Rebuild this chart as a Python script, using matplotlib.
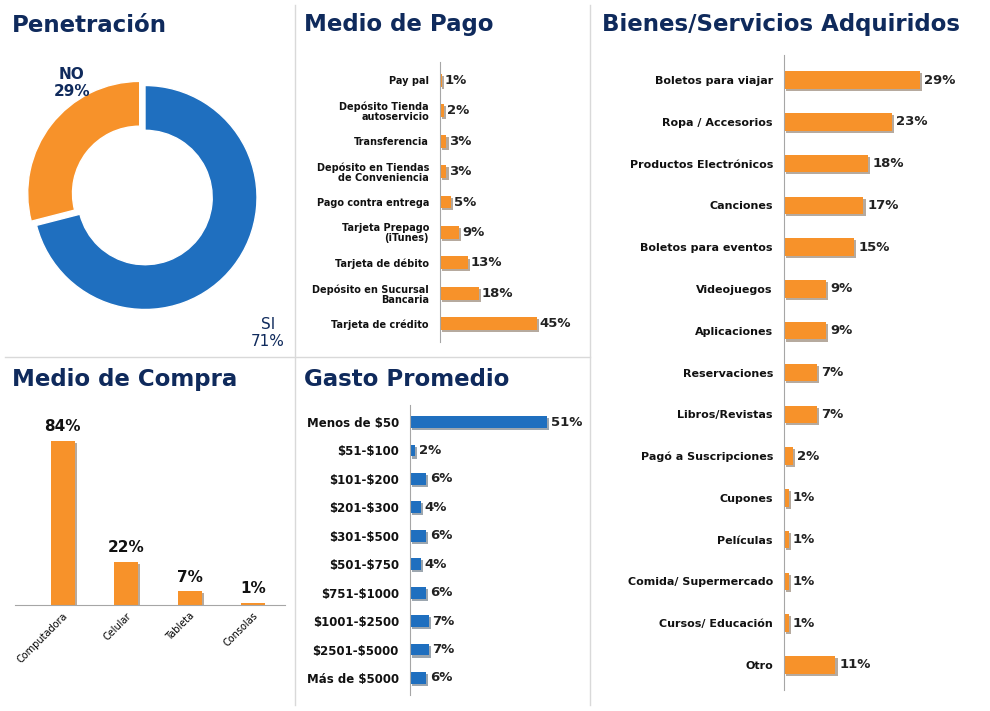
import matplotlib.pyplot as plt
import matplotlib.patheffects as pe

plt.rcParams["text.parse_math"] = False

pen_labels = ["SI", "NO"]
pen_values = [71, 29]

pago_labels = ["Pay pal", "Depósito Tienda\nautoservicio", "Transferencia",
               "Depósito en Tiendas\nde Conveniencia", "Pago contra entrega",
               "Tarjeta Prepago\n(iTunes)", "Tarjeta de débito",
               "Depósito en Sucursal\nBancaria", "Tarjeta de crédito"]
pago_values = [1, 2, 3, 3, 5, 9, 13, 18, 45]

bienes_labels = ["Boletos para viajar", "Ropa / Accesorios", "Productos Electrónicos",
                 "Canciones", "Boletos para eventos", "Videojuegos", "Aplicaciones",
                 "Reservaciones", "Libros/Revistas", "Pagó a Suscripciones", "Cupones",
                 "Películas", "Comida/ Supermercado", "Cursos/ Educación", "Otro"]
bienes_values = [29, 23, 18, 17, 15, 9, 9, 7, 7, 2, 1, 1, 1, 1, 11]

compra_labels = ["Computadora", "Celular", "Tableta", "Consolas"]
compra_values = [84, 22, 7, 1]

gasto_labels = ["Menos de $50", "$51-$100", "$101-$200", "$201-$300", "$301-$500",
                "$501-$750", "$751-$1000", "$1001-$2500", "$2501-$5000", "Más de $5000"]
gasto_values = [51, 2, 6, 4, 6, 4, 6, 7, 7, 6]

ORANGE = "#F7922A"
BLUE = "#1F6FBF"
NAVY = "#0F2A5C"
W, H = 990, 711
shadow = [pe.SimplePatchShadow(offset=(1.5, -1.5), alpha=0.4), pe.Normal()]

fig = plt.figure(figsize=(9.9, 7.11), dpi=100)
fig.patch.set_facecolor("white")


def box(x0, y0, x1, y1):
    return fig.add_axes([x0 / W, 1 - y1 / H, (x1 - x0) / W, (y1 - y0) / H])


# separators
for (xa, ya, xb, yb) in [(295, 5, 295, 705), (590, 5, 590, 705), (5, 357, 590, 357)]:
    fig.add_artist(plt.Line2D([xa / W, xb / W], [1 - ya / H, 1 - yb / H], color="#D9D9D9", lw=1))

titles = [("Penetración", 12, 25), ("Medio de Pago", 304, 25), ("Bienes/Servicios Adquiridos", 602, 25),
          ("Medio de Compra", 12, 380), ("Gasto Promedio", 304, 380)]
for t, x, y in titles:
    fig.text(x / W, 1 - y / H, t, fontsize=16.5, fontweight="bold", color=NAVY, va="center")

# pie
ax = box(5, 55, 285, 340)
wedges, _ = ax.pie(pen_values, colors=[BLUE, ORANGE], startangle=90, counterclock=False,
                   explode=[0, 0.06], wedgeprops=dict(width=0.4, edgecolor="white"))
ax.set_aspect("equal")
fig.text(72 / W, 1 - 83 / H, "NO\n29%", fontsize=11, fontweight="bold", color=NAVY, ha="center", va="center")
fig.text(268 / W, 1 - 333 / H, "SI\n71%", fontsize=11, color=NAVY, ha="center", va="center")


def hbars(axbox, labels, values, color, scale_max, fs_lab, fs_val):
    ax = box(*axbox)
    y = list(range(len(labels)))
    bars = ax.barh(y, values, height=0.42, color=color)
    for b in bars:
        b.set_path_effects(shadow)
    ax.set_ylim(len(labels) - 0.4, -0.6)
    ax.set_xlim(0, scale_max)
    ax.set_yticks(y)
    ax.set_yticklabels(labels, fontsize=fs_lab, fontweight="bold", color="#111111", linespacing=1.0)
    ax.tick_params(axis="y", length=0, pad=8)
    ax.set_xticks([])
    for s in ["top", "right", "bottom"]:
        ax.spines[s].set_visible(False)
    ax.spines["left"].set_color("#A6A6A6")
    for yi, v in zip(y, values):
        ax.text(v + scale_max * 0.02, yi, f"{v}%", va="center", fontsize=fs_val, fontweight="bold", color="#222222")
    return ax


hbars((440, 62, 580, 342), pago_labels, pago_values, ORANGE, 65, 7, 9.5)
hbars((784, 55, 985, 690), bienes_labels, bienes_values, ORANGE, 43, 8, 9.5)
hbars((410, 405, 585, 695), gasto_labels, gasto_values, BLUE, 65, 8.5, 9.5)

# vertical bars
ax = box(15, 410, 285, 605)
x = list(range(len(compra_labels)))
bars = ax.bar(x, compra_values, width=0.38, color=ORANGE)
for b in bars:
    b.set_path_effects(shadow)
ax.set_xlim(-0.75, 3.5)
ax.set_ylim(0, 100)
ax.set_yticks([])
ax.set_xticks(x)
ax.set_xticklabels(compra_labels, rotation=45, ha="right", rotation_mode="anchor", fontsize=7)
ax.tick_params(axis="x", length=0, pad=4)
for s in ["top", "right", "left"]:
    ax.spines[s].set_visible(False)
ax.spines["bottom"].set_color("#A6A6A6")
for xi, v in zip(x, compra_values):
    ax.text(xi, v + 5, f"{v}%", ha="center", fontsize=11, fontweight="bold", color="#111111")

fig.savefig("out.png", dpi=100)
